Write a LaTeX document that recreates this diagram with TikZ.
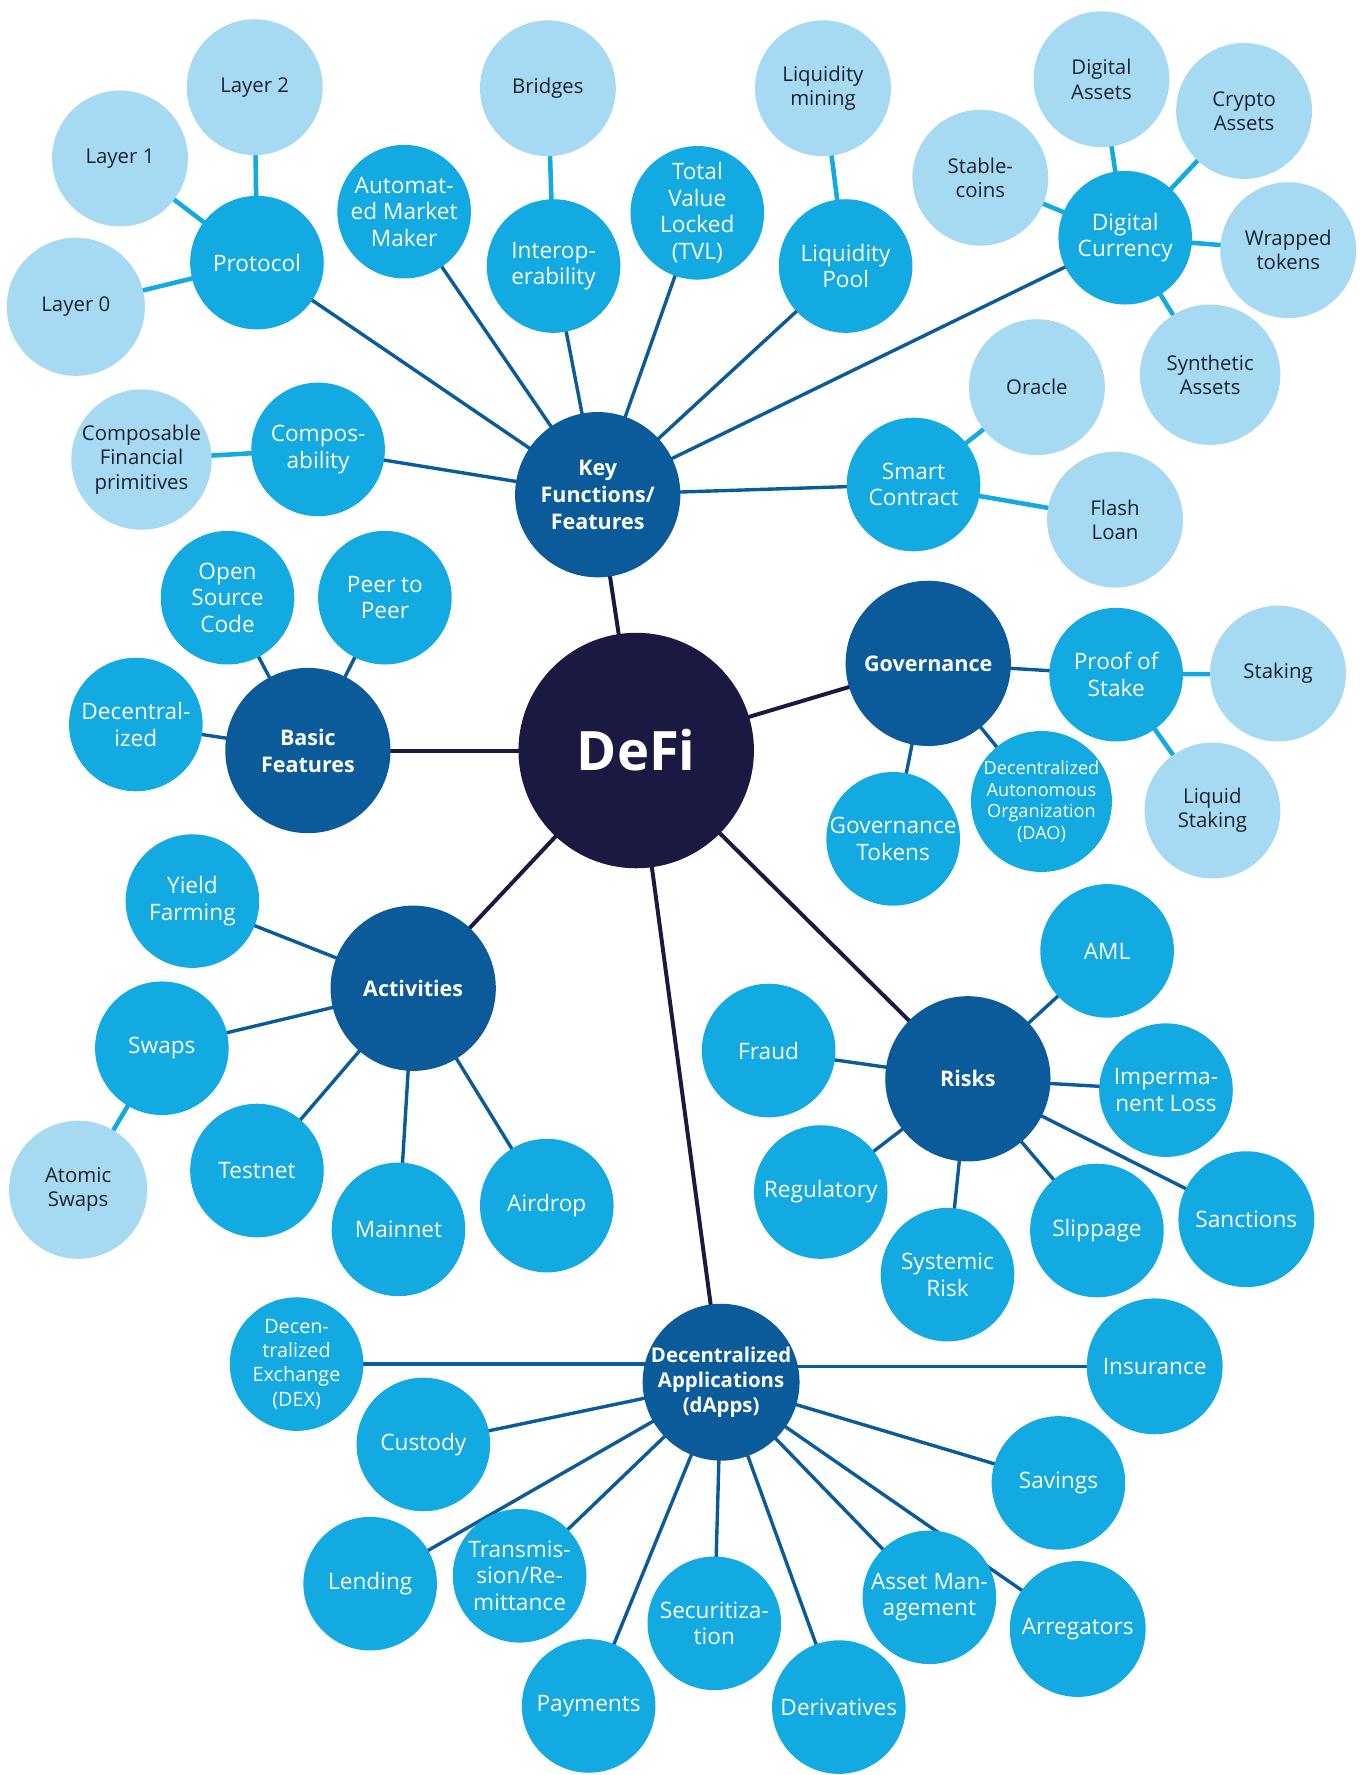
\documentclass[tikz,border=0pt]{standalone}
\usepackage{fontspec}
\setmainfont{Open Sans}
\usetikzlibrary{backgrounds}
\definecolor{navy}{HTML}{1A1942}
\definecolor{dblue}{HTML}{0B5B9B}
\definecolor{mblue}{HTML}{13A9E1}
\definecolor{lblue}{HTML}{A5DAF2}
\definecolor{ink}{HTML}{1E2230}
\begin{document}
\begin{tikzpicture}[x=1pt,y=-1pt,
  hub/.style={circle,fill=navy,text=white,font=\fontsize{48}{52}\selectfont\bfseries,minimum size=208pt,inner sep=0pt},
  lvA/.style={circle,fill=dblue,text=white,font=\fontsize{19}{24}\selectfont\bfseries,align=center,minimum size=146pt,inner sep=0pt},
  lvB/.style={circle,fill=mblue,text=white,font=\fontsize{20}{23.5}\selectfont,align=center,minimum size=118pt,inner sep=0pt},
  lvC/.style={circle,fill=lblue,text=ink,font=\fontsize{18}{21.5}\selectfont,align=center,minimum size=120pt,inner sep=0pt},
  eH/.style={draw=navy,line width=3.5pt},
  eA/.style={draw=dblue,line width=3pt},
  eB/.style={draw=mblue,line width=4pt}]
\begin{pgfonlayer}{background}
\fill[white] (0,0) rectangle (1201,1568);
\end{pgfonlayer}
\useasboundingbox (0,0) rectangle (1201,1568);
% hub
\node[hub] (defi) at (562,663) {DeFi};
% level 1
\node[lvA] (key) at (528,437) {Key\\Functions/\\Features};
\node[lvA] (basic) at (272,663) {Basic\\Features};
\node[lvA] (gov) at (820,586) {Governance};
\node[lvA] (act) at (365,873) {Activities};
\node[lvA] (risk) at (855,953) {Risks};
\node[lvA,minimum size=138pt,font=\fontsize{18}{22}\selectfont\bfseries] (dapps) at (637,1221) {Decentralized\\Applications\\(dApps)};
% level 2 - key functions
\node[lvB] (protocol) at (227,232) {Protocol};
\node[lvB] (amm) at (357,187) {Automat-\\ed Market\\Maker};
\node[lvB] (interop) at (489,235) {Interop-\\erability};
\node[lvB] (tvl) at (616,188) {Total\\Value\\Locked\\(TVL)};
\node[lvB] (lpool) at (747,235) {Liquidity\\Pool};
\node[lvB] (dcur) at (994,210) {Digital\\Currency};
\node[lvB] (compos) at (281,397) {Compos-\\ability};
\node[lvB] (smart) at (807,428) {Smart\\Contract};
% level 3 - key functions
\node[lvC] (l2) at (225,77) {Layer 2};
\node[lvC] (l1) at (106,140) {Layer 1};
\node[lvC,minimum size=122pt] (l0) at (67,271) {Layer 0};
\node[lvC] (bridges) at (484,78) {Bridges};
\node[lvC] (lmining) at (727,78) {Liquidity\\mining};
\node[lvC] (dassets) at (973,70) {Digital\\Assets};
\node[lvC] (cassets) at (1099,98) {Crypto\\Assets};
\node[lvC] (stable) at (866,157) {Stable-\\coins};
\node[lvC] (wrapped) at (1138,221) {Wrapped\\tokens};
\node[lvC,minimum size=124pt] (synth) at (1069,331) {Synthetic\\Assets};
\node[lvC] (oracle) at (916,342) {Oracle};
\node[lvC] (flash) at (985,459) {Flash\\Loan};
\node[lvC,minimum size=124pt] (cfp) at (125,406) {Composable\\Financial\\primitives};
% basic features
\node[lvB] (osc) at (201,528) {Open\\Source\\Code};
\node[lvB] (p2p) at (340,528) {Peer to\\Peer};
\node[lvB] (decen) at (120,640) {Decentral-\\ized};
% governance
\node[lvB] (pos) at (986,596) {Proof of\\Stake};
\node[lvB] (gtok) at (789,741) {Governance\\Tokens};
\node[lvB,minimum size=114pt,font=\fontsize{16}{19}\selectfont] (dao) at (920,708) {Decentralized\\Autonomous\\Organization\\(DAO)};
\node[lvC] (staking) at (1129,595) {Staking};
\node[lvC] (lstaking) at (1071,716) {Liquid\\Staking};
% activities
\node[lvB] (yield) at (170,796) {Yield\\Farming};
\node[lvB] (swaps) at (143,926) {Swaps};
\node[lvB] (testnet) at (227,1034) {Testnet};
\node[lvB] (mainnet) at (352,1086) {Mainnet};
\node[lvB] (airdrop) at (483,1065) {Airdrop};
\node[lvC,minimum size=122pt] (atomic) at (69,1051) {Atomic\\Swaps};
% risks
\node[lvB] (aml) at (978,840) {AML};
\node[lvB] (fraud) at (679,928) {Fraud};
\node[lvB] (imp) at (1030,963) {Imperma-\\nent Loss};
\node[lvB] (reg) at (725,1053) {Regulatory};
\node[lvB] (sys) at (837,1126) {Systemic\\Risk};
\node[lvB] (slip) at (969,1087) {Slippage};
\node[lvB,minimum size=120pt] (sanc) at (1101,1077) {Sanctions};
% dapps
\node[lvB,font=\fontsize{17.5}{21.5}\selectfont] (dex) at (262,1205) {Decen-\\tralized\\Exchange\\(DEX)};
\node[lvB] (custody) at (374,1276) {Custody};
\node[lvB,minimum size=120pt] (ins) at (1020,1207) {Insurance};
\node[lvB] (sav) at (935,1310) {Savings};
\node[lvB] (lend) at (327,1399) {Lending};
\node[lvB] (trans) at (459,1392) {Transmis-\\sion/Re-\\mittance};
\node[lvB] (secur) at (631,1434) {Securitiza-\\tion};
\node[lvB] (asset) at (821,1411) {Asset Man-\\agement};
\node[lvB,minimum size=120pt] (arreg) at (952,1439) {Arregators};
\node[lvB] (pay) at (520,1507) {Payments};
\node[lvB] (deriv) at (741,1508) {Derivatives};
% edges
\begin{pgfonlayer}{background}
\foreach \t in {key,basic,gov,act,risk,dapps}
  \draw[eH] (defi.center) -- (\t.center);
\foreach \t in {protocol,amm,interop,tvl,lpool,dcur,compos,smart}
  \draw[eA] (key.center) -- (\t.center);
\foreach \t in {osc,p2p,decen}
  \draw[eA] (basic.center) -- (\t.center);
\foreach \t in {pos,gtok,dao}
  \draw[eA] (gov.center) -- (\t.center);
\foreach \t in {yield,swaps,testnet,mainnet,airdrop}
  \draw[eA] (act.center) -- (\t.center);
\foreach \t in {aml,fraud,imp,reg,sys,slip,sanc}
  \draw[eA] (risk.center) -- (\t.center);
\foreach \t in {custody,sav,lend,trans,secur,asset,arreg,pay,deriv}
  \draw[eA] (dapps.center) -- (\t.center);
\draw[eA] (dex.center) -- (dex.center -| dapps.center);
\draw[eA] (ins.center) -- (ins.center -| dapps.center);
\foreach \t in {l2,l1,l0}
  \draw[eB] (protocol.center) -- (\t.center);
\draw[eB] (interop.center) -- (bridges.center);
\draw[eB] (lpool.center) -- (lmining.center);
\foreach \t in {dassets,cassets,stable,wrapped,synth}
  \draw[eB] (dcur.center) -- (\t.center);
\draw[eB] (compos.center) -- (cfp.center);
\foreach \t in {oracle,flash}
  \draw[eB] (smart.center) -- (\t.center);
\foreach \t in {staking,lstaking}
  \draw[eB] (pos.center) -- (\t.center);
\draw[eB] (swaps.center) -- (atomic.center);
\end{pgfonlayer}
\end{tikzpicture}
\end{document}
